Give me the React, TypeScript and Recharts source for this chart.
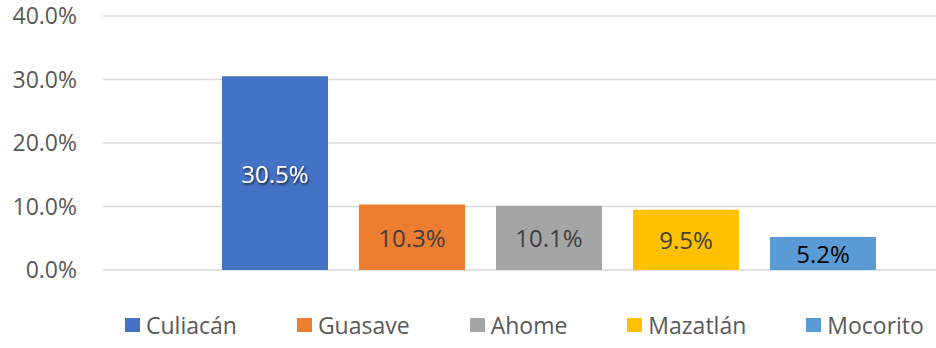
import React from 'react';
import { BarChart, Bar, XAxis, YAxis, CartesianGrid, Legend, LabelList } from 'recharts';

const categories = ['Culiacán', 'Guasave', 'Ahome', 'Mazatlán', 'Mocorito'];
const values = [30.5, 10.3, 10.1, 9.5, 5.2];
const colors = ['#4472C4', '#ED7D31', '#A5A5A5', '#FFC000', '#5B9BD5'];
const labelColors = ['#FFFFFF', '#404040', '#404040', '#404040', '#000000'];
const yTicks = [0, 10, 20, 30, 40];

const row: Record<string, any> = { name: 'Municipios' };
categories.forEach((c, i) => {
  row[c] = values[i];
});
const data = [row];

const FONT = '"Open Sans", sans-serif';

const makeLabel = (color: string, shadow: boolean) => (props: any) => {
  const { x, y, width, height, value } = props;
  return (
    <text
      x={x + width / 2}
      y={y + height / 2}
      textAnchor="middle"
      dominantBaseline="central"
      fill={color}
      fontSize={24}
      fontFamily={FONT}
      filter={shadow ? 'url(#lblShadow)' : undefined}
    >
      {`${Number(value).toFixed(1)}%`}
    </text>
  );
};

const LegendContent = () => (
  <div
    style={{
      display: 'flex',
      alignItems: 'center',
      height: 40,
      paddingLeft: 125,
      gap: 60,
      fontFamily: FONT,
      fontSize: 23,
      color: '#595959',
      whiteSpace: 'nowrap',
    }}
  >
    {categories.map((c, i) => (
      <div key={c} style={{ display: 'flex', alignItems: 'center' }}>
        <span style={{ width: 15, height: 14, background: colors[i], marginRight: 6, display: 'inline-block' }} />
        <span>{c}</span>
      </div>
    ))}
  </div>
);

const App = () => {
  return (
    <div style={{ position: 'absolute', left: 0, top: 0, width: 936, height: 348, overflow: 'hidden', background: '#fff' }}>
      <BarChart width={1000} height={348} data={data} margin={{ top: 16, right: 6, left: 0, bottom: 38 }} barGap={31}>
        <defs>
          <filter id="lblShadow" x="-20%" y="-20%" width="140%" height="140%">
            <feDropShadow dx="1" dy="1.5" stdDeviation="0.8" floodColor="#000" floodOpacity="0.75" />
          </filter>
        </defs>
        <CartesianGrid vertical={false} stroke="#D9D9D9" strokeWidth={1.5} />
        <XAxis dataKey="name" hide />
        <YAxis
          width={103}
          domain={[0, 40]}
          ticks={yTicks}
          tickFormatter={(v: number) => `${v.toFixed(1)}%`}
          axisLine={false}
          tickLine={false}
          tickSize={0}
          tickMargin={26}
          tick={{ fill: '#595959', fontSize: 23, fontFamily: FONT }}
          interval={0}
        />
        <Legend
          verticalAlign="bottom"
          content={() => <LegendContent />}
          wrapperStyle={{ top: 305, left: 0, bottom: 'auto', width: 936, height: 40 }}
        />
        {categories.map((c, i) => (
          <Bar key={c} dataKey={c} fill={colors[i]} barSize={106} isAnimationActive={false}>
            <LabelList dataKey={c} content={makeLabel(labelColors[i], i === 0)} />
          </Bar>
        ))}
      </BarChart>
    </div>
  );
};

export default App;
